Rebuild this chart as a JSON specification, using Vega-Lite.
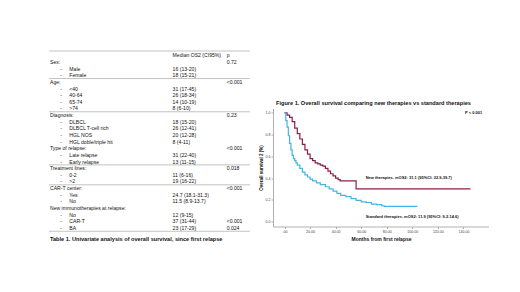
{
  "$schema": "https://vega.github.io/schema/vega-lite/v6.json",
  "background": "white",
  "autosize": {"type": "pad"},
  "padding": {"left": 48, "top": 50, "right": 0, "bottom": 0},
  "bounds": "flush",
  "center": true,
  "spacing": 23,
  "config": {"view": {"stroke": null}, "font": "Liberation Sans", "text": {"font": "Liberation Sans"}},
  "datasets": {
    "table": [
      {"r": 0, "median": "Median OS2 (CI95%)", "p": "p"},
      {"r": 1, "group": "Sex:", "p": "0.72"},
      {"r": 2, "item": "Male", "median": "16 (13-20)"},
      {"r": 3, "item": "Female", "median": "18 (15-21)"},
      {"r": 4, "group": "Age:", "p": "<0.001"},
      {"r": 5, "item": "<40", "median": "31 (17-45)"},
      {"r": 6, "item": "40-64", "median": "26 (18-34)"},
      {"r": 7, "item": "65-74", "median": "14 (10-19)"},
      {"r": 8, "item": ">74", "median": "8 (6-10)"},
      {"r": 9, "group": "Diagnosis:", "p": "0.23"},
      {"r": 10, "item": "DLBCL", "median": "18 (15-20)"},
      {"r": 11, "item": "DLBCL T-cell rich", "median": "26 (12-41)"},
      {"r": 12, "item": "HGL NOS", "median": "20 (12-28)"},
      {"r": 13, "item": "HGL doble/triple hit", "median": "8 (4-11)"},
      {"r": 14, "group": "Type of relapse:", "p": "<0.001"},
      {"r": 15, "item": "Late relapse", "median": "31 (22-40)"},
      {"r": 16, "item": "Early relapse", "median": "13 (11-15)"},
      {"r": 17, "group": "Treatment lines:", "p": "0.018"},
      {"r": 18, "item": "0-2", "median": "11 (6-16)"},
      {"r": 19, "item": ">2", "median": "19 (16-22)"},
      {"r": 20, "group": "CAR-T center:", "p": "<0.001"},
      {"r": 21, "item": "Yes", "median": "24.7 (18.1-31.3)"},
      {"r": 22, "item": "No", "median": "11.5 (8.9-13.7)"},
      {"r": 23, "group": "New immunotherapies at relapse:"},
      {"r": 24, "item": "No", "median": "12 (9-15)"},
      {"r": 25, "item": "CAR-T", "median": "37 (31-44)", "p": "<0.001"},
      {"r": 26, "item": "BA", "median": "23 (17-29)", "p": "0.024"}
    ],
    "lines": [{"r": -0.65}, {"r": 3.5}, {"r": 8.5}, {"r": 16.5}, {"r": 19.5}, {"r": 26.5}],
    "caption": [{"r": 27.6, "text": "Table 1. Univariate analysis of overall survival, since first relapse"}],
    "km": [
      {"g": "New therapies", "t": 0, "s": 1.0},
      {"g": "New therapies", "t": 2, "s": 0.98},
      {"g": "New therapies", "t": 4, "s": 0.96},
      {"g": "New therapies", "t": 6, "s": 0.92},
      {"g": "New therapies", "t": 8, "s": 0.86},
      {"g": "New therapies", "t": 10, "s": 0.81},
      {"g": "New therapies", "t": 12, "s": 0.76},
      {"g": "New therapies", "t": 14, "s": 0.71},
      {"g": "New therapies", "t": 16, "s": 0.66},
      {"g": "New therapies", "t": 18, "s": 0.62},
      {"g": "New therapies", "t": 20, "s": 0.58},
      {"g": "New therapies", "t": 22, "s": 0.56},
      {"g": "New therapies", "t": 24, "s": 0.54},
      {"g": "New therapies", "t": 26, "s": 0.53},
      {"g": "New therapies", "t": 28, "s": 0.52},
      {"g": "New therapies", "t": 30, "s": 0.51},
      {"g": "New therapies", "t": 32, "s": 0.49},
      {"g": "New therapies", "t": 34, "s": 0.465},
      {"g": "New therapies", "t": 36, "s": 0.44},
      {"g": "New therapies", "t": 38, "s": 0.42},
      {"g": "New therapies", "t": 40, "s": 0.4},
      {"g": "New therapies", "t": 42, "s": 0.385},
      {"g": "New therapies", "t": 43.5, "s": 0.375},
      {"g": "New therapies", "t": 56, "s": 0.3},
      {"g": "New therapies", "t": 145.5, "s": 0.3},
      {"g": "Standard therapies", "t": 0, "s": 1.0},
      {"g": "Standard therapies", "t": 1, "s": 0.93},
      {"g": "Standard therapies", "t": 2, "s": 0.87},
      {"g": "Standard therapies", "t": 3, "s": 0.79},
      {"g": "Standard therapies", "t": 4, "s": 0.72},
      {"g": "Standard therapies", "t": 5, "s": 0.66},
      {"g": "Standard therapies", "t": 6, "s": 0.61},
      {"g": "Standard therapies", "t": 7, "s": 0.58},
      {"g": "Standard therapies", "t": 8, "s": 0.56},
      {"g": "Standard therapies", "t": 9, "s": 0.54},
      {"g": "Standard therapies", "t": 10, "s": 0.52},
      {"g": "Standard therapies", "t": 12, "s": 0.49},
      {"g": "Standard therapies", "t": 14, "s": 0.455},
      {"g": "Standard therapies", "t": 16, "s": 0.43},
      {"g": "Standard therapies", "t": 18, "s": 0.41},
      {"g": "Standard therapies", "t": 20, "s": 0.39},
      {"g": "Standard therapies", "t": 22, "s": 0.375},
      {"g": "Standard therapies", "t": 25, "s": 0.355},
      {"g": "Standard therapies", "t": 28, "s": 0.34},
      {"g": "Standard therapies", "t": 32, "s": 0.32},
      {"g": "Standard therapies", "t": 35, "s": 0.3},
      {"g": "Standard therapies", "t": 38, "s": 0.28},
      {"g": "Standard therapies", "t": 41, "s": 0.26},
      {"g": "Standard therapies", "t": 44, "s": 0.24},
      {"g": "Standard therapies", "t": 48, "s": 0.23},
      {"g": "Standard therapies", "t": 52, "s": 0.21},
      {"g": "Standard therapies", "t": 56, "s": 0.195},
      {"g": "Standard therapies", "t": 60, "s": 0.18},
      {"g": "Standard therapies", "t": 64, "s": 0.175},
      {"g": "Standard therapies", "t": 68, "s": 0.16},
      {"g": "Standard therapies", "t": 72, "s": 0.155},
      {"g": "Standard therapies", "t": 76, "s": 0.145},
      {"g": "Standard therapies", "t": 78, "s": 0.14},
      {"g": "Standard therapies", "t": 104, "s": 0.14}
    ],
    "labels": [
      {"t": 63.5, "s": 0.405, "label": "New therapies. mOS2: 31.1 (95%CI: 22.9-39.7)"},
      {"t": 63.5, "s": 0.04, "label": "Standard therapies. mOS2: 11.9 (95%CI: 9.2-14.6)"}
    ],
    "pval": [{"t": 148, "s": 0.995, "label": "P < 0.001"}]
  },
  "hconcat": [
    {
      "width": 201,
      "height": 233,
      "encoding": {
        "y": {"field": "r", "type": "quantitative", "scale": {"domain": [-0.65, 34.44], "reverse": true, "nice": false, "zero": false}, "axis": null}
      },
      "layer": [
        {
          "data": {"name": "lines"},
          "mark": {"type": "rule", "color": "#9a9a9a", "strokeWidth": 0.6},
          "encoding": {
            "x": {"datum": 0, "type": "quantitative", "scale": {"domain": [0, 100], "nice": false, "zero": false}, "axis": null},
            "x2": {"datum": 100}
          }
        },
        {
          "data": {"name": "table"},
          "transform": [{"filter": "datum.group"}],
          "mark": {"type": "text", "align": "left", "baseline": "middle", "fontSize": 5.1, "color": "#111"},
          "encoding": {"x": {"datum": 0.5, "type": "quantitative"}, "text": {"field": "group"}}
        },
        {
          "data": {"name": "table"},
          "transform": [{"filter": "datum.item"}],
          "mark": {"type": "text", "align": "left", "baseline": "middle", "fontSize": 5.1, "color": "#111", "text": "-"},
          "encoding": {"x": {"datum": 5.6, "type": "quantitative"}}
        },
        {
          "data": {"name": "table"},
          "transform": [{"filter": "datum.item"}],
          "mark": {"type": "text", "align": "left", "baseline": "middle", "fontSize": 5.1, "color": "#111"},
          "encoding": {"x": {"datum": 10.1, "type": "quantitative"}, "text": {"field": "item"}}
        },
        {
          "data": {"name": "table"},
          "transform": [{"filter": "datum.median"}],
          "mark": {"type": "text", "align": "left", "baseline": "middle", "fontSize": 5.1, "color": "#111"},
          "encoding": {"x": {"datum": 61.5, "type": "quantitative"}, "text": {"field": "median"}}
        },
        {
          "data": {"name": "table"},
          "transform": [{"filter": "datum.p"}],
          "mark": {"type": "text", "align": "left", "baseline": "middle", "fontSize": 5.1, "color": "#111"},
          "encoding": {
            "x": {"datum": 88.4, "type": "quantitative"},
            "text": {"field": "p"},
            "fontWeight": {"condition": {"test": "datum.p == '<0.001' || datum.p == '0.024'", "value": "bold"}, "value": "normal"}
          }
        },
        {
          "data": {"name": "caption"},
          "mark": {"type": "text", "align": "left", "baseline": "middle", "fontSize": 5.6, "fontWeight": "bold", "color": "#111"},
          "encoding": {"x": {"datum": 0.5, "type": "quantitative"}, "text": {"field": "text"}}
        }
      ]
    },
    {
      "width": 216,
      "height": 118,
      "title": {"text": "Figure 1. Overall survival comparing new therapies vs standard therapies", "fontSize": 5.6, "fontWeight": "bold", "anchor": "start", "frame": "group", "dx": 3, "offset": 2, "color": "#111", "font": "Liberation Sans"},
      "encoding": {
        "x": {"field": "t", "type": "quantitative", "scale": {"domain": [-9, 160], "nice": false, "zero": false},
          "axis": {"title": "Months from first relapse", "values": [0, 20, 40, 60, 80, 100, 120, 140], "labelExpr": "datum.value == 0 ? '.00' : format(datum.value, '.2f')", "labelFontSize": 3.6, "labelColor": "#444", "titleFontSize": 5, "titleFontWeight": "bold", "titleColor": "#111", "titlePadding": 3, "grid": false, "domainColor": "#b0b0b0", "tickColor": "#b0b0b0", "tickSize": 2, "labelPadding": 1, "labelFlush": false}},
        "y": {"field": "s", "type": "quantitative", "scale": {"domain": [-0.046, 1.041], "nice": false, "zero": false},
          "axis": {"title": "Overall survival 2 (%)", "values": [0, 0.2, 0.4, 0.6, 0.8, 1.0], "format": ".1f", "labelFontSize": 3.6, "labelColor": "#444", "titleFontSize": 4.5, "titleFontWeight": "bold", "titleColor": "#111", "titlePadding": 2, "grid": false, "domainColor": "#b0b0b0", "tickColor": "#b0b0b0", "tickSize": 2, "labelPadding": 1, "labelFlush": false}}
      },
      "layer": [
        {
          "data": {"name": "km"},
          "mark": {"type": "line", "interpolate": "step-after", "strokeWidth": 1.2},
          "encoding": {
            "color": {"field": "g", "type": "nominal", "scale": {"domain": ["New therapies", "Standard therapies"], "range": ["#8e1d45", "#41b6e6"]}, "legend": null}
          }
        },
        {
          "data": {"name": "labels"},
          "mark": {"type": "text", "align": "left", "baseline": "middle", "fontSize": 4, "fontWeight": "bold", "color": "#111"},
          "encoding": {"text": {"field": "label"}}
        },
        {
          "data": {"name": "pval"},
          "mark": {"type": "text", "align": "center", "baseline": "middle", "fontSize": 4, "fontWeight": "bold", "color": "#111"},
          "encoding": {"text": {"field": "label"}}
        }
      ]
    }
  ]
}
